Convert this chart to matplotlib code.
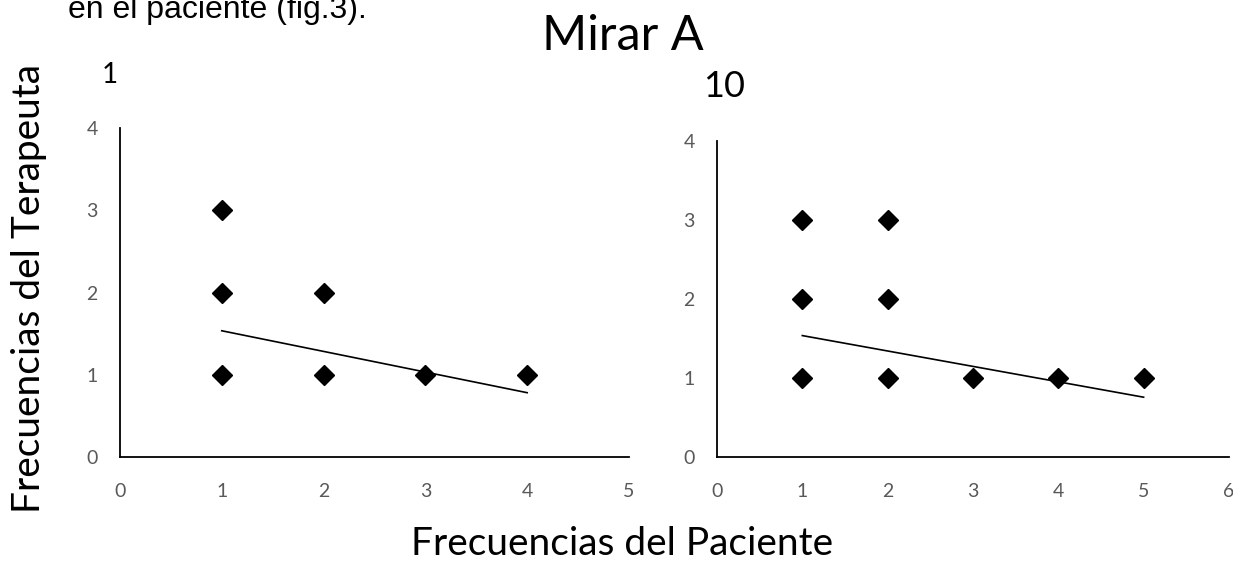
import numpy as np
import matplotlib
matplotlib.use('Agg')
import matplotlib.pyplot as plt

plt.rcParams['font.family'] = ['Lato', 'DejaVu Sans']

# sesion 1
x1 = [1, 1, 1, 2, 2, 3, 4]
y1 = [1, 2, 3, 1, 2, 1, 1]
trend1 = (-0.251, 1.786)   # pendiente, ordenada

# sesion 10
x10 = [1, 1, 1, 2, 2, 2, 3, 4, 5]
y10 = [1, 2, 3, 1, 2, 3, 1, 1, 1]
trend10 = (-0.195, 1.732)

tick_grey = '#595959'

fig = plt.figure(figsize=(12.33, 5.64), dpi=100)
ax1 = fig.add_axes([0.0973, 0.1897, 0.4128, 0.5833])
ax2 = fig.add_axes([0.5815, 0.1897, 0.4152, 0.5603])


def scatter_panel(ax, x, y, trend, xmax):
    ax.plot(x, y, 'D', color='black', ms=10, ls='none', zorder=3)
    m, b = trend
    xs = np.array([min(x), max(x)])
    ax.plot(xs, m * xs + b, color='black', lw=1.2, zorder=2)
    ax.set_xlim(0, xmax)
    ax.set_ylim(0, 4)
    ax.set_xticks(range(xmax + 1))
    ax.set_yticks(range(5))
    for side in ['top', 'right']:
        ax.spines[side].set_visible(False)
    for side in ['left', 'bottom']:
        ax.spines[side].set_linewidth(1.3)
    ax.tick_params(length=0, labelsize=14, colors=tick_grey)
    ax.tick_params(axis='x', pad=19)
    ax.tick_params(axis='y', pad=16)
    for lab in ax.get_xticklabels() + ax.get_yticklabels():
        lab.set_clip_on(False)


scatter_panel(ax1, x1, y1, trend1, 5)
scatter_panel(ax2, x10, y10, trend10, 6)

fig.text(68 / 1233, 0.968, 'en el paciente (fig.3).', family='Liberation Sans',
         fontsize=23, ha='left', va='baseline')
fig.text(623 / 1233, 0.9113, 'Mirar A', fontsize=35, ha='center', va='baseline')
fig.text(110 / 1233, 0.853, '1', fontsize=20, ha='center', va='baseline')
fig.text(724 / 1233, 0.828, '10', fontsize=26, ha='center', va='baseline')
fig.text(622 / 1233, 0.016, 'Frecuencias del Paciente', fontsize=28,
         ha='center', va='baseline')
fig.text(29.5 / 1233, 0.4876, 'Frecuencias del Terapeuta', fontsize=28,
         rotation=90, ha='center', va='center')

fig.savefig('out.png', dpi=100)
